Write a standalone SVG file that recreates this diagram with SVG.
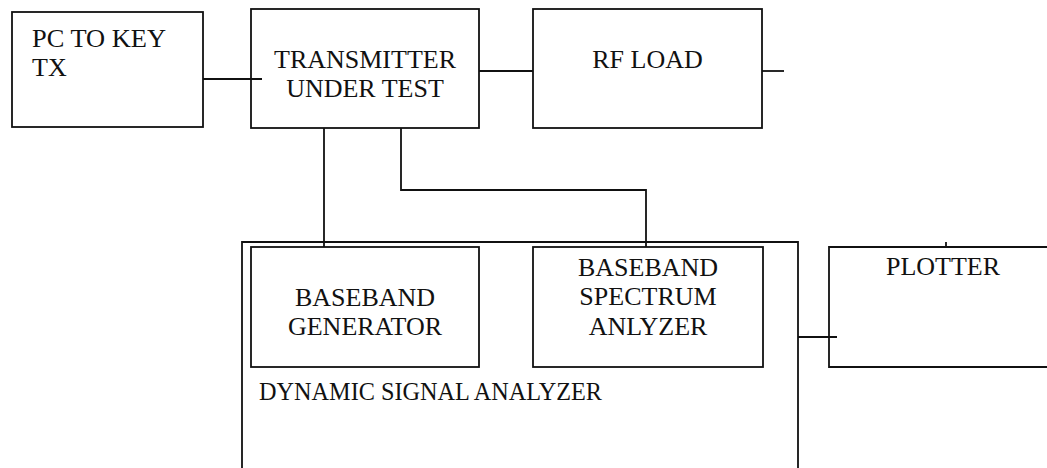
<svg xmlns="http://www.w3.org/2000/svg" width="1047" height="468" viewBox="0 0 1047 468">
<style>
.box{fill:none;stroke:#111;stroke-width:1.8}
.ln{fill:none;stroke:#111;stroke-width:1.8}
.t{font-family:"Liberation Serif","Times New Roman",serif;font-size:26px;fill:#111}
.c{text-anchor:middle}
</style>
<rect width="1047" height="468" fill="#fff"/>
<g id="connectors">
<line class="ln" x1="203" y1="79" x2="262" y2="79"/>
<line class="ln" x1="479" y1="71" x2="533" y2="71"/>
<line class="ln" x1="762" y1="71" x2="784" y2="71"/>
<line class="ln" x1="324" y1="128" x2="324" y2="247"/>
<polyline class="ln" points="401,128 401,190 646,190 646,247"/>
<line class="ln" x1="798" y1="337" x2="837" y2="337"/>
<line class="ln" x1="946" y1="242" x2="946" y2="247"/>
</g>
<g id="pc">
<rect class="box" x="12" y="12" width="191" height="115"/>
<text class="t" x="32" y="47" textLength="134" lengthAdjust="spacingAndGlyphs">PC TO KEY</text>
<text class="t" x="32" y="76">TX</text>
</g>
<g id="transmitter">
<rect class="box" x="251" y="9" width="228" height="119"/>
<text class="t c" x="365" y="68">TRANSMITTER</text>
<text class="t c" x="365" y="97">UNDER TEST</text>
</g>
<g id="rfload">
<rect class="box" x="533" y="9" width="229" height="119"/>
<text class="t c" x="647.5" y="68">RF LOAD</text>
</g>
<g id="dsa">
<path class="box" d="M242,480 V242 H798 V480"/>
<text class="t" x="259" y="400" textLength="343" lengthAdjust="spacingAndGlyphs">DYNAMIC SIGNAL ANALYZER</text>
</g>
<g id="generator">
<rect class="box" x="251" y="247" width="228" height="120"/>
<text class="t c" x="365" y="306">BASEBAND</text>
<text class="t c" x="365" y="335">GENERATOR</text>
</g>
<g id="spectrum">
<rect class="box" x="533" y="247" width="230" height="120"/>
<text class="t c" x="648" y="276">BASEBAND</text>
<text class="t c" x="648" y="305">SPECTRUM</text>
<text class="t c" x="648" y="335">ANLYZER</text>
</g>
<g id="plotter">
<path class="box" d="M1060,247 H829 V367 H1060"/>
<text class="t c" x="943" y="275">PLOTTER</text>
</g>
</svg>
